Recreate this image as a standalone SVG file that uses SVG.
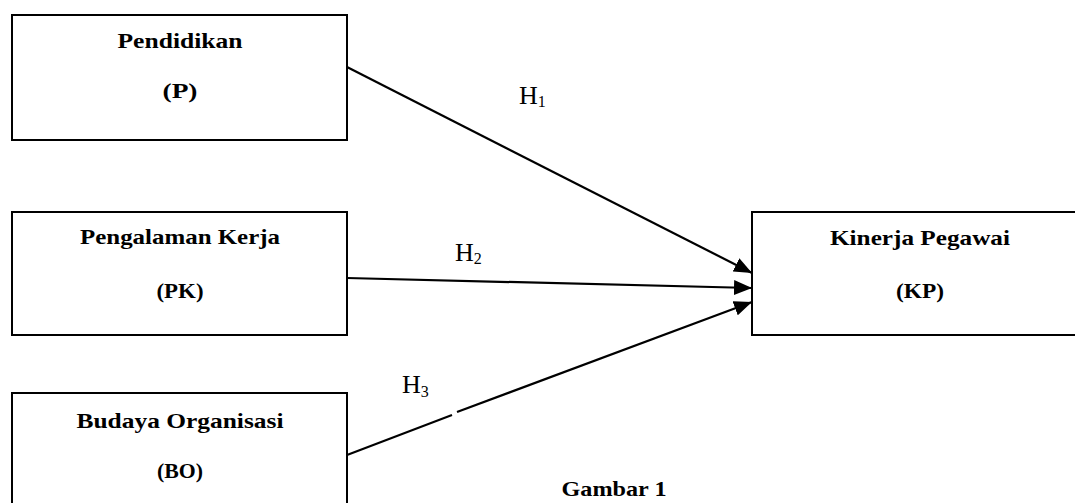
<svg xmlns="http://www.w3.org/2000/svg" width="1075" height="503" viewBox="0 0 1075 503">
<style>
.box{fill:#fff;stroke:#000;stroke-width:2}
.nt{font-family:"Liberation Serif","Times New Roman",serif;font-weight:bold;font-size:22px;fill:#000;text-anchor:middle}
.h{font-family:"Liberation Serif","Times New Roman",serif;font-size:26px;fill:#000}
.sub{font-size:16px}
.ln{stroke:#000;stroke-width:2.2;fill:none}
</style>
<defs>
<marker id="arr" markerUnits="userSpaceOnUse" markerWidth="19" markerHeight="15" refX="18" refY="7.5" orient="auto">
<path d="M0,0 L18,7.5 L0,15 Z" fill="#000"/>
</marker>
</defs>
<rect width="1075" height="503" fill="#fff"/>
<g id="connectors">
<line class="ln" x1="347" y1="67" x2="752" y2="273" marker-end="url(#arr)"/>
<line class="ln" x1="347" y1="278" x2="752" y2="288" marker-end="url(#arr)"/>
<line class="ln" x1="347" y1="455" x2="452" y2="415"/>
<line class="ln" x1="457" y1="412" x2="752" y2="302" marker-end="url(#arr)"/>
</g>
<g id="node-P">
<rect class="box" x="12" y="15" width="335" height="125"/>
<text class="nt" x="180" y="48" textLength="125" lengthAdjust="spacingAndGlyphs">Pendidikan</text>
<text class="nt" x="180" y="98" textLength="35" lengthAdjust="spacingAndGlyphs">(P)</text>
</g>
<g id="node-PK">
<rect class="box" x="12" y="212" width="335" height="123"/>
<text class="nt" x="180" y="244" textLength="200" lengthAdjust="spacingAndGlyphs">Pengalaman Kerja</text>
<text class="nt" x="180" y="298" textLength="47" lengthAdjust="spacingAndGlyphs">(PK)</text>
</g>
<g id="node-BO">
<rect class="box" x="12" y="393" width="335" height="130"/>
<text class="nt" x="180" y="428" textLength="207" lengthAdjust="spacingAndGlyphs">Budaya Organisasi</text>
<text class="nt" x="180" y="478" textLength="46" lengthAdjust="spacingAndGlyphs">(BO)</text>
</g>
<g id="node-KP">
<rect class="box" x="752" y="212" width="340" height="123"/>
<text class="nt" x="920" y="245" textLength="180" lengthAdjust="spacingAndGlyphs">Kinerja Pegawai</text>
<text class="nt" x="920" y="298" textLength="48" lengthAdjust="spacingAndGlyphs">(KP)</text>
</g>
<g id="labels">
<text class="h" x="519" y="104">H<tspan class="sub" dy="3">1</tspan></text>
<text class="h" x="455" y="261">H<tspan class="sub" dy="3">2</tspan></text>
<text class="h" x="402" y="393">H<tspan class="sub" dy="4">3</tspan></text>
<text class="nt" x="614" y="496" textLength="105" lengthAdjust="spacingAndGlyphs">Gambar 1</text>
</g>
</svg>
